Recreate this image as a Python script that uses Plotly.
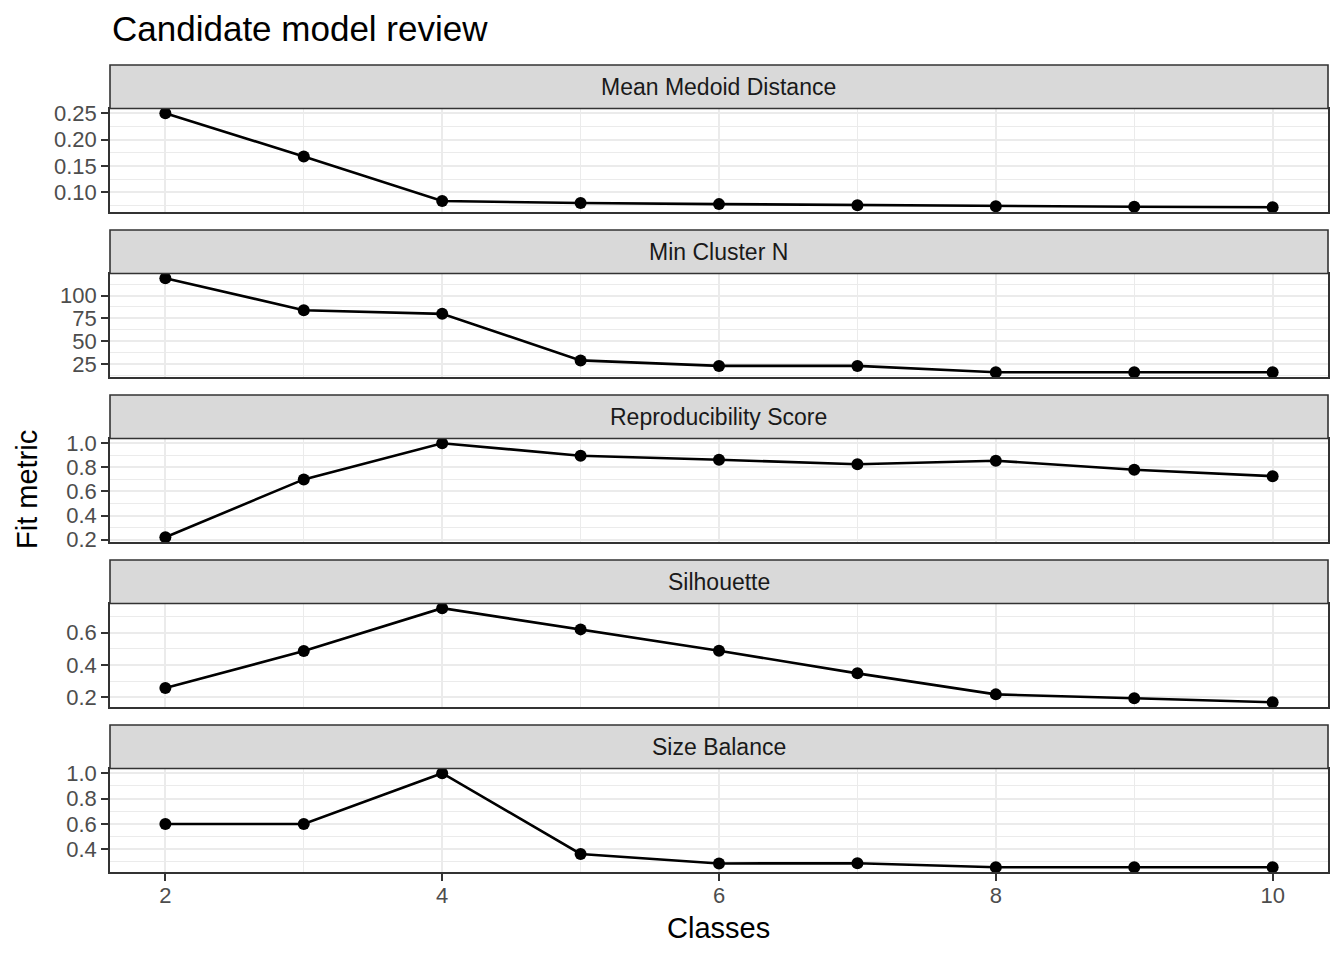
import plotly.graph_objects as go

# Candidate model review: fit metrics by number of classes
classes = [2, 3, 4, 5, 6, 7, 8, 9, 10]

panel_titles = ["Mean Medoid Distance", "Min Cluster N", "Reproducibility Score",
                "Silhouette", "Size Balance"]

mean_medoid_distance = [0.250, 0.168, 0.084, 0.080, 0.078, 0.076, 0.074, 0.073, 0.072]
min_cluster_n = [119, 84, 80, 29, 23, 23, 16, 16, 16]
reproducibility_score = [0.22, 0.70, 1.00, 0.896, 0.863, 0.825, 0.855, 0.78, 0.727]
silhouette = [0.257, 0.486, 0.751, 0.62, 0.488, 0.348, 0.218, 0.194, 0.169]
size_balance = [0.60, 0.60, 1.00, 0.363, 0.288, 0.29, 0.258, 0.258, 0.258]

series = [mean_medoid_distance, min_cluster_n, reproducibility_score, silhouette, size_balance]
y_dticks = [0.05, 25, 0.2, 0.2, 0.2]
y_formats = [".2f", "d", ".1f", ".1f", ".1f"]
x_ticks = [2, 4, 6, 8, 10]

W, H = 1344, 960
OFFSET = 8  # page body margin
FONT = "Liberation Sans"
GRID = "#EBEBEB"
DARK = "#333333"

# pixel layout (ggplot facet_wrap look), in screenshot pixels
left, right = 110, 1328
first_strip, step, strip_h, panel_h = 65, 165, 43.5, 103.5


def px_x(p):
    return (p - OFFSET) / W


def px_y(p):
    return 1 - (p - OFFSET) / H


fig = go.Figure()
shapes = []
annotations = []

xmin, xmax = min(classes), max(classes)
xpad = (xmax - xmin) * 0.05

for i, (name, vals) in enumerate(zip(panel_titles, series)):
    n = i + 1
    s_top = first_strip + i * step
    p_top = s_top + strip_h
    p_bot = p_top + panel_h
    xa = "x" if n == 1 else f"x{n}"
    ya = "y" if n == 1 else f"y{n}"

    fig.add_trace(go.Scatter(
        x=classes, y=vals, mode="lines+markers",
        line=dict(color="black", width=2.6),
        marker=dict(color="black", size=12),
        xaxis=xa, yaxis=ya, showlegend=False, cliponaxis=True
    ))

    lo, hi = min(vals), max(vals)
    pad = (hi - lo) * 0.05
    last = n == len(series)

    fig.layout[f"xaxis{'' if n == 1 else n}"] = dict(
        domain=[px_x(left), px_x(right)], anchor=ya,
        range=[xmin - xpad, xmax + xpad],
        tickmode="array", tickvals=x_ticks,
        showticklabels=last, ticks="outside" if last else "",
        ticklen=7, tickwidth=2, tickcolor=DARK, ticklabelstandoff=-4,
        tickfont=dict(family=FONT, size=22, color="#4D4D4D"),
        showgrid=True, gridcolor=GRID, gridwidth=2.4,
        minor=dict(dtick=1, tick0=0, showgrid=True, gridcolor=GRID, gridwidth=1.2),
        showline=True, mirror=True, linecolor=DARK, linewidth=1.6,
        zeroline=False, automargin=False,
    )
    fig.layout[f"yaxis{'' if n == 1 else n}"] = dict(
        domain=[px_y(p_bot), px_y(p_top)], anchor=xa,
        range=[lo - pad, hi + pad],
        tickmode="linear", tick0=0, dtick=y_dticks[i], tickformat=y_formats[i],
        ticks="outside", ticklen=7, tickwidth=2, tickcolor=DARK,
        tickfont=dict(family=FONT, size=22, color="#4D4D4D"),
        showgrid=True, gridcolor=GRID, gridwidth=2.4,
        minor=dict(dtick=y_dticks[i] / 2, tick0=0, showgrid=True,
                   gridcolor=GRID, gridwidth=1.2),
        showline=True, mirror=True, linecolor=DARK, linewidth=1.6,
        zeroline=False, automargin=False,
    )

    # facet strip
    shapes.append(dict(
        type="rect", xref="paper", yref="paper",
        x0=px_x(left), x1=px_x(right), y0=px_y(p_top), y1=px_y(s_top),
        fillcolor="#D9D9D9", line=dict(color=DARK, width=1.6), layer="above"
    ))
    annotations.append(dict(
        text=name, xref="paper", yref="paper",
        x=px_x((left + right) / 2), y=px_y(s_top + strip_h / 2),
        xanchor="center", yanchor="middle", showarrow=False,
        font=dict(family=FONT, size=23, color="#1A1A1A")
    ))

annotations += [
    dict(text="Candidate model review", xref="paper", yref="paper",
         x=px_x(left), y=px_y(28), xanchor="left", yanchor="middle",
         showarrow=False, font=dict(family=FONT, size=35, color="black")),
    dict(text="Classes", xref="paper", yref="paper",
         x=px_x((left + right) / 2), y=px_y(928), xanchor="center", yanchor="middle",
         showarrow=False, font=dict(family=FONT, size=29, color="black")),
    dict(text="Fit metric", xref="paper", yref="paper", textangle=-90,
         x=px_x(27), y=px_y(490), xanchor="center", yanchor="middle",
         showarrow=False, font=dict(family=FONT, size=29, color="black")),
]

fig.update_layout(
    width=W, height=H,
    margin=dict(l=0, r=0, t=0, b=0),
    paper_bgcolor="white", plot_bgcolor="white",
    shapes=shapes, annotations=annotations,
    showlegend=False,
)

fig.write_html("out.html")
